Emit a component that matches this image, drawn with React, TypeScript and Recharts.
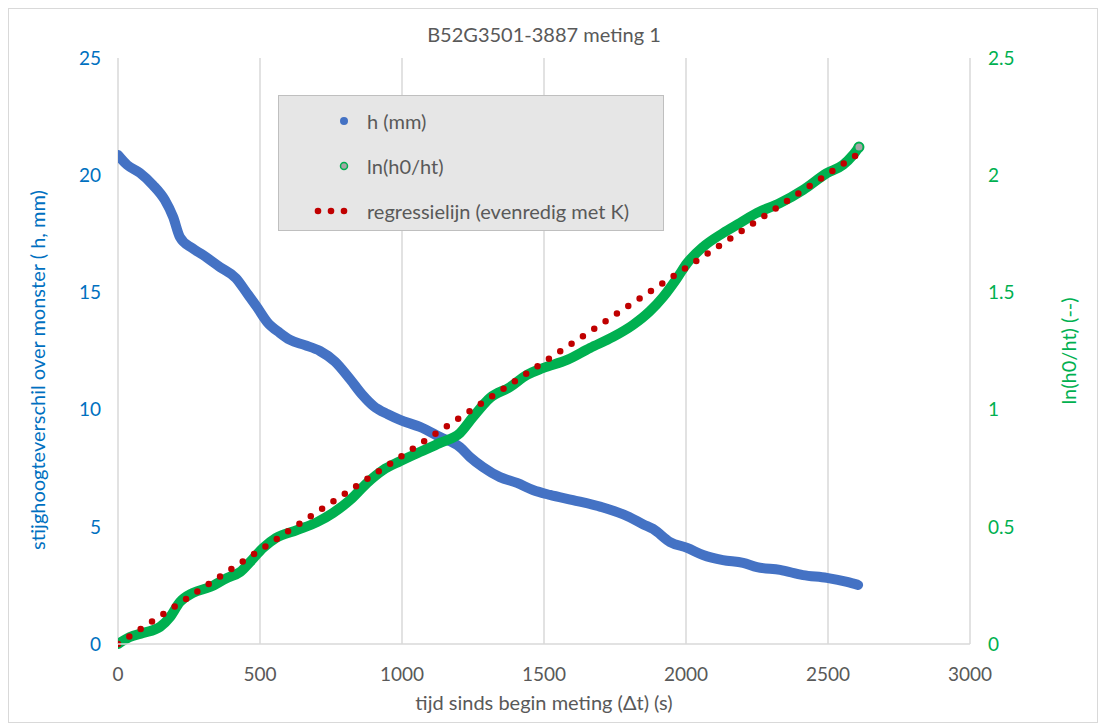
import React from "react";
import {
  ComposedChart,
  Line,
  XAxis,
  YAxis,
  CartesianGrid,
} from "recharts";

// h (mm)
const hTime = [
  0, 32, 77, 123, 165, 194, 218, 261, 299, 359, 415, 454, 489, 525, 570, 606,
  658, 711, 764, 817, 859, 900, 950, 993, 1063, 1134, 1204, 1239, 1285, 1345,
  1405, 1461, 1521, 1602, 1700, 1800, 1850, 1884, 1944, 2004, 2060, 2130, 2201,
  2250, 2331, 2412, 2496, 2567, 2606,
];
const hValues = [
  20.86, 20.44, 20.1, 19.58, 18.94, 18.22, 17.36, 16.89, 16.6, 16.08, 15.61,
  14.97, 14.38, 13.74, 13.27, 12.97, 12.75, 12.5, 12.05, 11.3, 10.65, 10.15,
  9.8, 9.56, 9.26, 8.83, 8.4, 7.98, 7.55, 7.12, 6.87, 6.57, 6.36, 6.14, 5.85,
  5.42, 5.1, 4.91, 4.35, 4.1, 3.8, 3.58, 3.46, 3.28, 3.16, 2.94, 2.82, 2.65,
  2.52,
];

// ln(h0/ht)
const lnTime = [
  0, 42, 88, 148, 183, 218, 264, 324, 384, 430, 465, 511, 556, 630, 701, 757,
  817, 877, 933, 993, 1063, 1134, 1204, 1250, 1310, 1380, 1440, 1496, 1581,
  1662, 1743, 1813, 1873, 1919, 1968, 2004, 2060, 2130, 2190, 2250, 2331, 2412,
  2496, 2553, 2588, 2609,
];
const lnValues = [
  0, 0.03, 0.047, 0.073, 0.115, 0.179, 0.218, 0.243, 0.282, 0.307, 0.35, 0.41,
  0.452, 0.486, 0.52, 0.559, 0.614, 0.687, 0.742, 0.78, 0.819, 0.858, 0.9,
  0.968, 1.05, 1.096, 1.148, 1.177, 1.212, 1.263, 1.31, 1.361, 1.42, 1.48,
  1.56, 1.625, 1.694, 1.753, 1.796, 1.839, 1.881, 1.937, 2.009, 2.044, 2.086,
  2.12,
];

// regression line end points
const fitTime = [0, 2600];
const fitValues = [0, 2.086];

const xTicks = [0, 500, 1000, 1500, 2000, 2500, 3000];
const leftTicks = [0, 5, 10, 15, 20, 25];
const rightTicks = [0, 0.5, 1, 1.5, 2, 2.5];

const hData = hTime.map((t, i) => ({ t, h: hValues[i] }));
const lnData = lnTime.map((t, i) => ({ t, ln: lnValues[i] }));
const fitData = fitTime.map((t, i) => ({ t, fit: fitValues[i] }));

const FONT = "Lato, 'Open Sans', sans-serif";
const BLUE = "#4472C4";
const GREEN = "#00B050";
const RED = "#C00000";
const GRID = "#d9d9d9";
const TEXT = "#595959";

function LastDot(props: any) {
  const { cx, cy, index } = props;
  if (index !== lnData.length - 1) return <g key={index} />;
  return (
    <circle
      key={index}
      cx={cx}
      cy={cy}
      r={4.5}
      fill="#a6a6a6"
      stroke={GREEN}
      strokeWidth={2}
    />
  );
}

function ChartLegend() {
  const row = {
    display: "flex",
    alignItems: "center",
    height: 45,
  } as const;
  const mark = { width: 70, display: "flex", justifyContent: "flex-end", paddingRight: 18 } as const;
  return (
    <div
      style={{
        position: "absolute",
        left: 278,
        top: 95,
        width: 386,
        height: 136,
        background: "#e6e6e6",
        border: "1px solid #bfbfbf",
        boxSizing: "border-box",
        fontFamily: FONT,
        fontSize: 20,
        color: TEXT,
        paddingTop: 2,
      }}
    >
      <div style={row}>
        <div style={mark}>
          <svg width={10} height={10}>
            <circle cx={5} cy={5} r={4} fill={BLUE} />
          </svg>
        </div>
        <span>h (mm)</span>
      </div>
      <div style={row}>
        <div style={mark}>
          <svg width={10} height={10}>
            <circle cx={5} cy={5} r={3.5} fill="#a6a6a6" stroke={GREEN} strokeWidth={1.5} />
          </svg>
        </div>
        <span>ln(h0/ht)</span>
      </div>
      <div style={row}>
        <div style={mark}>
          <svg width={36} height={10}>
            <circle cx={5} cy={5} r={3.3} fill={RED} />
            <circle cx={18} cy={5} r={3.3} fill={RED} />
            <circle cx={31} cy={5} r={3.3} fill={RED} />
          </svg>
        </div>
        <span>regressielijn (evenredig met K)</span>
      </div>
    </div>
  );
}

export default function App() {
  return (
    <div
      style={{
        position: "absolute",
        left: 0,
        top: 0,
        width: 1099,
        height: 724,
        background: "#fff",
        fontFamily: FONT,
      }}
    >
      <div
        style={{
          position: "absolute",
          left: 8,
          top: 8,
          width: 1090,
          height: 715,
          border: "1px solid #d9d9d9",
          boxSizing: "border-box",
        }}
      />
      <div
        style={{
          position: "absolute",
          left: 0,
          top: 22,
          width: 1088,
          textAlign: "center",
          fontSize: 20,
          color: TEXT,
        }}
      >
        B52G3501-3887 meting 1
      </div>
      <div
        style={{
          position: "absolute",
          left: 37,
          top: 370,
          transform: "translate(-50%, -50%) rotate(-90deg)",
          whiteSpace: "nowrap",
          fontSize: 20,
          color: "#0070C0",
        }}
      >
        stijghoogteverschil over monster ( h, mm)
      </div>
      <div
        style={{
          position: "absolute",
          left: 1068,
          top: 351,
          transform: "translate(-50%, -50%) rotate(-90deg)",
          whiteSpace: "nowrap",
          fontSize: 20,
          color: GREEN,
        }}
      >
        ln(h0/ht) (--)
      </div>
      <div
        style={{
          position: "absolute",
          left: 0,
          top: 690,
          width: 1088,
          textAlign: "center",
          fontSize: 20,
          color: TEXT,
        }}
      >
        tijd sinds begin meting (Δt) (s)
      </div>

      <div style={{ position: "absolute", left: 0, top: 0 }}>
        <ComposedChart
          width={1099}
          height={724}
          margin={{ top: 58, right: 0, bottom: 0, left: 0 }}
        >
          <CartesianGrid stroke={GRID} strokeWidth={1.5} horizontalValues={leftTicks} verticalValues={xTicks} />
          <XAxis
            type="number"
            dataKey="t"
            domain={[0, 3000]}
            ticks={xTicks}
            height={80}
            tickSize={0}
            tickMargin={24}
            axisLine={{ stroke: GRID, strokeWidth: 1.5 }}
            tickLine={false}
            tick={{ fill: TEXT, fontSize: 19, fontFamily: FONT }}
            allowDataOverflow
          />
          <YAxis
            yAxisId="left"
            type="number"
            domain={[0, 25]}
            ticks={leftTicks}
            width={118}
            tickSize={0}
            tickMargin={17}
            axisLine={false}
            tickLine={false}
            tick={{ fill: "#0070C0", fontSize: 19, fontFamily: FONT }}
          />
          <YAxis
            yAxisId="right"
            orientation="right"
            type="number"
            domain={[0, 2.5]}
            ticks={rightTicks}
            width={129}
            tickSize={0}
            tickMargin={18}
            axisLine={false}
            tickLine={false}
            tick={{ fill: GREEN, fontSize: 19, fontFamily: FONT }}
          />
          <Line
            yAxisId="left"
            data={hData}
            dataKey="h"
            type="monotone"
            stroke={BLUE}
            strokeWidth={10}
            strokeLinecap="round"
            strokeLinejoin="round"
            dot={false}
            isAnimationActive={false}
          />
          <Line
            yAxisId="right"
            data={lnData}
            dataKey="ln"
            type="monotone"
            stroke={GREEN}
            strokeWidth={10}
            strokeLinecap="round"
            strokeLinejoin="round"
            dot={LastDot}
            activeDot={false}
            isAnimationActive={false}
          />
          <Line
            yAxisId="right"
            data={fitData}
            dataKey="fit"
            type="linear"
            stroke={RED}
            strokeWidth={6.5}
            strokeLinecap="round"
            strokeDasharray="0 13.6"
            dot={false}
            activeDot={false}
            isAnimationActive={false}
          />
        </ComposedChart>
      </div>
      <ChartLegend />
    </div>
  );
}
